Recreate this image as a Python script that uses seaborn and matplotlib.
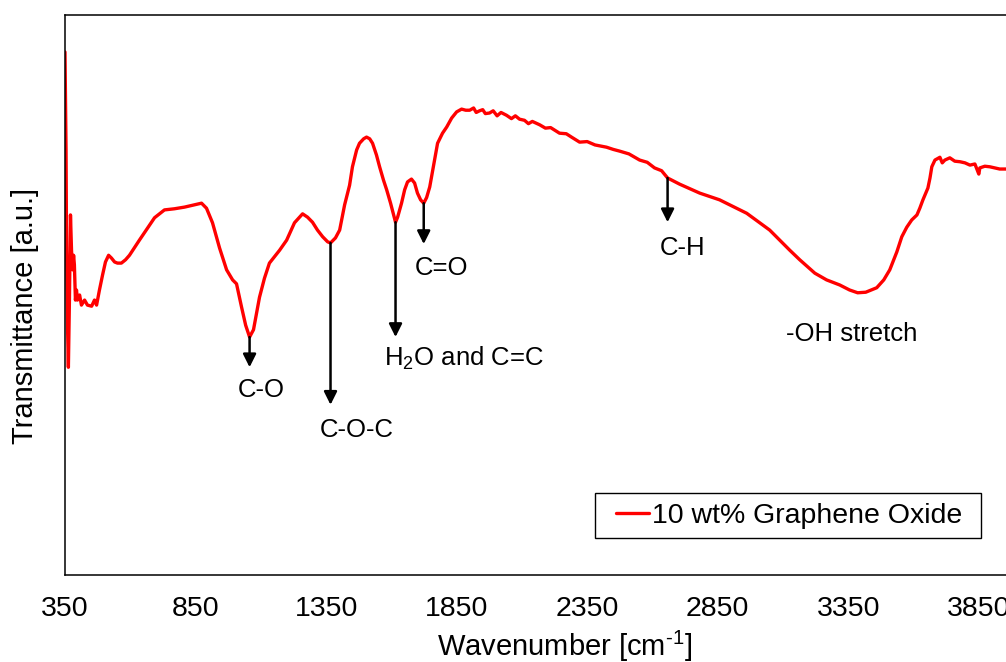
import numpy as np
import pandas as pd
import matplotlib
matplotlib.use("Agg")
import matplotlib.pyplot as plt
from matplotlib.patches import Rectangle
import seaborn as sns

# FTIR spectrum of the 10 wt% graphene oxide sample (transmittance, arbitrary units)
wavenumber = [
    350, 354, 356, 360, 363, 367, 371, 375, 379, 383, 386, 390, 394, 398, 406,
    413, 425, 436, 452, 463, 471, 482, 494, 505, 517, 528, 540, 551, 566, 582,
    597, 635, 674, 693, 712, 731, 769, 808, 846, 873, 892, 915, 942, 969, 992,
    1007, 1026, 1042, 1057, 1072, 1095, 1114, 1133, 1172, 1199, 1229, 1260,
    1279, 1298, 1317, 1337, 1356, 1367, 1386, 1402, 1421, 1440, 1451, 1467,
    1478, 1494, 1505, 1517, 1528, 1543, 1555, 1570, 1582, 1597, 1616, 1624,
    1639, 1651, 1662, 1677, 1689, 1700, 1712, 1724, 1735, 1747, 1762, 1777,
    1796, 1812, 1831, 1850, 1869, 1885, 1900, 1915, 1925, 1938, 1950, 1960,
    1976, 1990, 2005, 2020, 2041, 2060, 2075, 2091, 2110, 2125, 2140, 2168,
    2190, 2210, 2244, 2270, 2290, 2321, 2350, 2380, 2424, 2450, 2474, 2510,
    2551, 2580, 2608, 2635, 2658, 2704, 2781, 2857, 2961, 3049, 3126, 3164,
    3222, 3267, 3317, 3355, 3386, 3417, 3459, 3486, 3509, 3536, 3555, 3574,
    3593, 3613, 3624, 3636, 3647, 3655, 3663, 3670, 3682, 3701, 3710, 3720,
    3739, 3758, 3778, 3797, 3816, 3835, 3850, 3854, 3873, 3892, 3911, 3930,
    3953, 3999,
]
transmittance = [
    93.4, 75.9, 58.0, 43.8, 37.1, 49.1, 64.3, 58.0, 54.5, 57.1, 55.4, 49.1,
    50.9, 49.1, 50.0, 48.2, 49.1, 48.2, 48.0, 49.1, 48.2, 50.9, 53.6, 55.9,
    57.1, 56.6, 55.9, 55.7, 55.7, 56.3, 57.1, 59.8, 62.5, 63.8, 64.5, 65.2,
    65.4, 65.7, 66.1, 66.4, 65.5, 62.9, 58.4, 54.5, 52.7, 52.0, 47.9, 44.6,
    42.5, 43.8, 49.6, 53.0, 55.7, 58.0, 59.8, 62.9, 64.5, 63.9, 63.0, 61.6,
    60.4, 59.5, 59.3, 60.2, 61.6, 66.1, 69.6, 72.9, 75.9, 77.1, 77.9, 78.2,
    77.9, 77.1, 75.0, 72.9, 70.5, 68.8, 66.4, 63.0, 63.9, 66.4, 68.8, 70.2,
    70.7, 70.0, 68.2, 67.0, 66.4, 67.4, 69.3, 73.2, 77.1, 78.9, 80.0, 81.6,
    82.7, 83.2, 83.0, 83.0, 83.4, 82.6, 82.9, 83.1, 82.4, 82.5, 82.9, 82.0,
    82.6, 82.1, 81.5, 82.0, 81.4, 81.2, 80.6, 81.0, 80.4, 79.8, 79.9, 78.9,
    78.8, 78.2, 77.3, 77.4, 76.8, 76.4, 76.0, 75.7, 75.2, 74.1, 73.7, 72.7,
    72.2, 70.9, 69.8, 68.2, 67.0, 64.6, 61.6, 58.0, 56.3, 53.9, 52.7, 51.8,
    50.9, 50.4, 50.5, 51.3, 52.7, 54.5, 57.7, 60.4, 62.1, 63.4, 64.3, 65.5,
    67.0, 68.2, 69.1, 70.9, 72.9, 74.1, 74.6, 73.6, 74.1, 74.5, 73.9, 73.8,
    73.6, 73.2, 73.4, 71.6, 72.7, 73.0, 72.9, 72.7, 72.5, 72.5, 72.3,
]
series_name = "10 wt% Graphene Oxide"

# Band assignments: arrow position, arrow tip and label anchor
band_labels = ["C-O", "C-O-C", "H$_2$O and C=C", "C=O", "C-H"]
band_wavenumber = [1057, 1367, 1616, 1724, 2658]
band_arrow_tip = [37.1, 30.4, 42.5, 59.1, 63.0]
band_text_x = [1103, 1467, 1877, 1793, 2716]
band_text_y = [33.0, 25.9, 38.75, 54.8, 58.4]
oh_label = "-OH stretch"
oh_text_pos = (3364, 43.0)

x_ticks = [350, 850, 1350, 1850, 2350, 2850, 3350, 3850]

sns.set_style("white")
plt.rcParams["font.family"] = ["Liberation Sans", "DejaVu Sans"]
plt.rcParams["mathtext.fontset"] = "custom"
plt.rcParams["mathtext.rm"] = "Liberation Sans"
plt.rcParams["mathtext.it"] = "Liberation Sans:italic"
plt.rcParams["mathtext.default"] = "regular"
plt.rcParams["text.color"] = "black"
plt.rcParams["axes.labelcolor"] = "black"
plt.rcParams["xtick.color"] = "black"

df = pd.DataFrame({"Wavenumber": wavenumber, "Transmittance": transmittance,
                   "Sample": series_name})

fig = plt.figure(figsize=(10.06, 6.62), dpi=100)
ax = fig.add_axes([0.0646, 0.1314, 0.9473, 0.8459])

sns.lineplot(data=df, x="Wavenumber", y="Transmittance", hue="Sample",
             palette=["#ff0000"], sort=False, estimator=None, lw=2.4, ax=ax,
             legend=False)

ax.set_xlim(350, 4000)
ax.set_ylim(0, 100)
ax.set_xticks(x_ticks)
ax.set_xticklabels([str(t) for t in x_ticks])
ax.set_yticks([])
ax.tick_params(axis="x", direction="in", length=5.8, width=1.1, pad=15,
               labelsize=20.5, colors="black")
for side in ["left", "bottom", "top", "right"]:
    ax.spines[side].set_visible(True)
    ax.spines[side].set_color("black")
    ax.spines[side].set_linewidth(1.1)

ax.set_xlabel(r"Wavenumber [cm$^{\text{-}1}$]", fontsize=21, color="black")
ax.set_ylabel("Transmittance [a.u.]", fontsize=21, color="black")
ax.xaxis.set_label_coords(0.5247, -0.0964)
ax.yaxis.set_label_coords(-0.0273, 0.462)

# Arrows start on the spectrum at each assigned band
for lab, wn, tip, tx, ty in zip(band_labels, band_wavenumber, band_arrow_tip,
                                band_text_x, band_text_y):
    start = float(np.interp(wn, wavenumber, transmittance))
    ax.annotate("", xy=(wn, tip), xytext=(wn, start),
                arrowprops=dict(arrowstyle="-|>,head_length=0.6,head_width=0.3",
                                color="black", lw=1.8, shrinkA=0, shrinkB=0,
                                mutation_scale=13))
    ax.text(tx, ty, lab, fontsize=18.5, ha="center", va="center", color="black")
ax.text(oh_text_pos[0], oh_text_pos[1], oh_label, fontsize=18.5, ha="center",
        va="center", color="black")

# Legend box drawn separately so its padding can be wider on the sides
fig.patches.append(Rectangle((595 / 1006, 1 - 538 / 662), 386 / 1006, 45 / 662,
                             transform=fig.transFigure, facecolor="white",
                             edgecolor="black", linewidth=1.0, zorder=5))
line = ax.get_lines()[0]
leg = fig.legend([line], [series_name], loc="center left",
                 bbox_to_anchor=(616 / 1006, 1 - 516 / 662),
                 bbox_transform=fig.transFigure, borderaxespad=0, borderpad=0,
                 fontsize=20.5, frameon=False, handlelength=1.15,
                 handletextpad=0.1, labelcolor="black")
leg.set_zorder(6)

fig.savefig("out.png", dpi=100)
